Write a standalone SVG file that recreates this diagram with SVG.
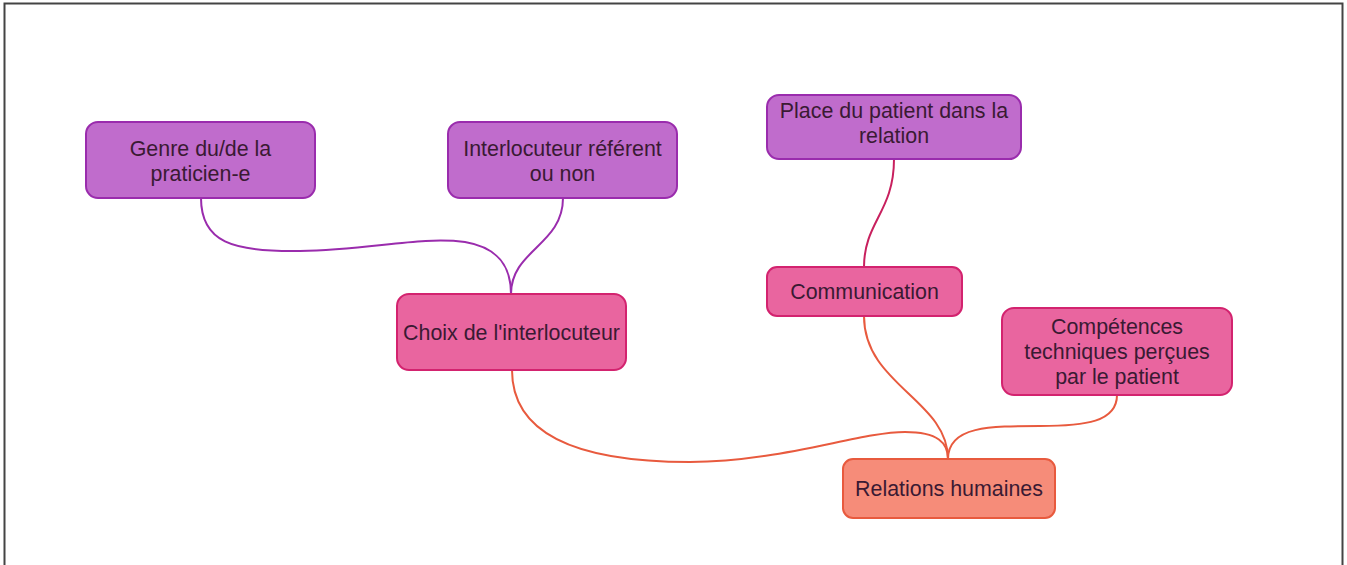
<svg xmlns="http://www.w3.org/2000/svg" width="1347" height="565" viewBox="0 0 1347 565">
<style>
.node rect{stroke-width:2}
.purple rect{fill:#c06ccc;stroke:#9a2cad}
.pink rect{fill:#e9659f;stroke:#d3236f}
.orange rect{fill:#f68c79;stroke:#e85a3e}
text{font-family:"Liberation Sans",Arial,sans-serif;font-size:21.4px;fill:#3a1a33;text-anchor:middle}
.edges path{fill:none;stroke-width:2}
.ep{stroke:#9a2cad}
.ek{stroke:#c8205e}
.eo{stroke:#e85a3e}
</style>
<rect x="0" y="0" width="1347" height="565" fill="#fff"/>
<rect x="4.5" y="3.5" width="1338" height="580" fill="none" stroke="#444" stroke-width="2"/>
<g class="edges" id="connectors">
<path class="ep" d="M201,198 C201,242 232,252 300,251 C370,250 420,236 465,242 C500,248 511,268 511,294"/>
<path class="ep" d="M563,198 C563,245 511,250 511,294"/>
<path class="ek" d="M894,159 C894,212 864,222 864,267"/>
<path class="eo" d="M512,370 C512,440 590,462 690,462 C780,462 860,432 905,432 C938,432 948,443 948,459"/>
<path class="eo" d="M864,316 C864,385 948,400 948,459"/>
<path class="eo" d="M1117,395 C1117,422 1085,426 1040,426 C990,426 948,426 948,459"/>
</g>
<g id="genre" class="node purple"><rect x="86" y="122" width="229" height="76" rx="12"/><text x="200.5" y="156">Genre du/de la</text><text x="200.5" y="181">praticien-e</text></g>
<g id="interlocuteur" class="node purple"><rect x="448" y="122" width="229" height="76" rx="12"/><text x="562.5" y="156">Interlocuteur référent</text><text x="562.5" y="181">ou non</text></g>
<g id="place" class="node purple"><rect x="767" y="95" width="254" height="64" rx="12"/><text x="894" y="118">Place du patient dans la</text><text x="894" y="143">relation</text></g>
<g id="choix" class="node pink"><rect x="397" y="294" width="229" height="76" rx="12"/><text x="511.5" y="340">Choix de l'interlocuteur</text></g>
<g id="communication" class="node pink"><rect x="767" y="267" width="195" height="49" rx="10"/><text x="864.5" y="299">Communication</text></g>
<g id="competences" class="node pink"><rect x="1002" y="308" width="230" height="87" rx="12"/><text x="1117" y="334">Compétences</text><text x="1117" y="359">techniques perçues</text><text x="1117" y="384">par le patient</text></g>
<g id="relations" class="node orange"><rect x="843" y="459" width="212" height="59" rx="10"/><text x="949" y="496">Relations humaines</text></g>
</svg>
